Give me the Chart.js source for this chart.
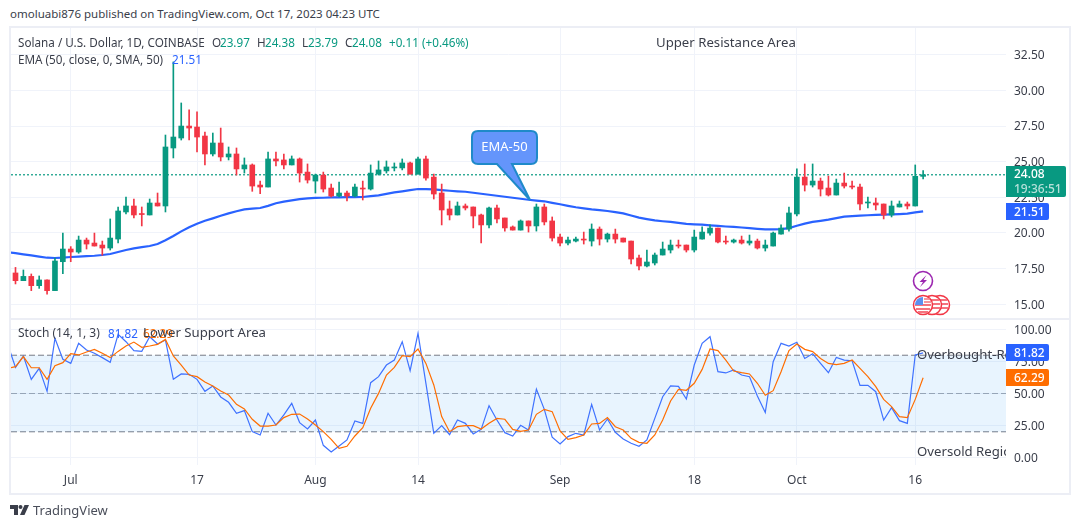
<!DOCTYPE html>
<html>
<head>
<meta charset="utf-8">
<title>SOL/USD</title>
<script src="https://cdn.jsdelivr.net/npm/chart.js@4/dist/chart.umd.min.js"></script>
<style>
  html, body { margin: 0; padding: 0; background: #fff; }
  body { width: 1080px; height: 528px; overflow: hidden; position: relative;
         font-family: "Noto Sans", sans-serif; font-size: 11.7px; color: #3a3e4a; }
  canvas { position: absolute; }
  .t { position: absolute; white-space: nowrap; line-height: 16px; }
  .frame { position: absolute; background: #eceef5; }
  .tag { position: absolute; left: 1006px; color: #fff; font-size: 12px; font-weight: 500;
         padding-left: 8px; box-sizing: border-box; border-radius: 0 2px 2px 0; line-height: 17px; }
  .clip { position: absolute; overflow: hidden; white-space: nowrap; font-size: 13.2px; line-height: 16px; }
  .green { color: #089981; } .blue { color: #2962ff; } .orange { color: #ff6d00; }
</style>
</head>
<body>
<div class="frame" style="left:10px;top:26px;width:1061px;height:2px"></div>
<div class="frame" style="left:10px;top:318px;width:1061px;height:2px"></div>
<div class="frame" style="left:10px;top:493px;width:1061px;height:2px"></div>
<div class="frame" style="left:9px;top:26px;width:2px;height:469px"></div>
<div class="frame" style="left:1069px;top:26px;width:2px;height:469px"></div>

<canvas id="priceChart" width="1059" height="290" style="left:11px;top:28px"></canvas>
<canvas id="stochChart" width="1059" height="173" style="left:11px;top:320px"></canvas>

<div class="t" style="left:10px;top:6px;font-size:11.5px">omoluabi876 published on TradingView.com, Oct 17, 2023 04:23 UTC</div>

<div class="t" style="left:18px;top:34px">Solana / U.S. Dollar, 1D, COINBASE</div>
<div class="t" style="left:212px;top:34px">O</div><div class="t green" style="left:220px;top:34px">23.97</div>
<div class="t" style="left:257px;top:34px">H</div><div class="t green" style="left:265px;top:34px">24.38</div>
<div class="t" style="left:302px;top:34px">L</div><div class="t green" style="left:308px;top:34px">23.79</div>
<div class="t" style="left:345px;top:34px">C</div><div class="t green" style="left:352px;top:34px">24.08</div>
<div class="t green" style="left:389px;top:34px">+0.11</div>
<div class="t green" style="left:422px;top:34px">(+0.46%)</div>
<div class="t" style="left:18px;top:51px">EMA (50, close, 0, SMA, 50)</div>
<div class="t blue" style="left:172px;top:51px">21.51</div>

<div class="t" style="left:656px;top:34px;font-size:13.2px">Upper Resistance Area</div>

<div class="t" style="left:18px;top:325px;font-size:12px">Stoch (14, 1, 3)</div>
<div class="t blue" style="left:108px;top:325px">81.82</div>
<div class="t orange" style="left:143px;top:325px">62.29</div>
<div class="t" style="left:143px;top:324px;font-size:13.2px">Lower Support Area</div>
<div class="clip" style="left:917px;top:346px;width:89px">Overbought-Region</div>
<div class="clip" style="left:917px;top:443px;width:89px">Oversold Region</div>

<div class="tag" style="top:166px;width:60px;height:31px;background:#089981;line-height:15px">24.08<br><span style="opacity:.7;font-size:12px">19:36:51</span></div>
<div class="tag" style="top:203px;width:43px;height:17px;background:#2962ff">21.51</div>
<div class="tag" style="top:344px;width:43px;height:17px;background:#2962ff">81.82</div>
<div class="tag" style="top:369px;width:43px;height:17px;background:#ff6d00">62.29</div>

<svg width="1080" height="528" style="position:absolute;left:0;top:0;pointer-events:none">
  <!-- EMA-50 callout -->
  <path d="M478 131 H531 Q537 131 537 137 V158 Q537 164 531 164 H512 L530 200 L497 164 H478 Q472 164 472 158 V137 Q472 131 478 131 Z"
        fill="#6495fb" stroke="#1f8ac9" stroke-width="2"/>
  <text x="504.5" y="151" text-anchor="middle" fill="#fff" font-family="Noto Sans" font-size="13">EMA-50</text>
  <!-- event marks -->
  <circle cx="923" cy="281" r="9.5" fill="#fff" stroke="#9c27b0" stroke-width="1.6"/>
  <path d="M926.5 275 L919.5 282 H923 L920 287 L927 280 H923.5 Z" fill="#9c27b0"/>
  <g id="flags">
    <circle cx="940" cy="305" r="9.5" fill="#fff" stroke="#f23645" stroke-width="1.5"/>
    <path d="M936 300h11M936 304h12M936 308h12" stroke="#f4737f" stroke-width="2"/>
    <circle cx="932" cy="305" r="9.5" fill="#fff" stroke="#f23645" stroke-width="1.5"/>
    <path d="M928 300h11M928 304h12M928 308h12" stroke="#f4737f" stroke-width="2"/>
    <circle cx="923" cy="305" r="9.5" fill="#fff" stroke="#f23645" stroke-width="1.5"/>
    <path d="M915 305h16M916 309h14M918 312h10" stroke="#f4737f" stroke-width="2"/>
    <path d="M923 297 a8 8 0 0 0 -8 8 h8 Z" fill="#5b8ff0"/>
    <path d="M924 299h6M924 302h7" stroke="#f4737f" stroke-width="1.6"/>
  </g>
  <!-- footer logo -->
  <path d="M10 505 h8 v10 h-4 v-6 h-4 Z M24.5 505 h4.5 l-4.5 10 h-4.5 Z" fill="#3a3e4a"/>
  <circle cx="20.5" cy="507" r="2" fill="#3a3e4a"/>
</svg>
<div class="t" style="left:33px;top:502px;font-size:13px;color:#4a4e5a">TradingView</div>

<script>
// values, one candle per day from Jun 24 2023
var opens = [
  17.19,16.65,16.95,16.30,16.70,15.95,17.98,18.87,18.66,19.50,
  19.29,19.15,18.94,19.57,21.47,21.89,21.33,21.26,22.10,21.89,
  25.96,26.66,27.50,27.43,26.80,25.54,26.31,25.33,25.54,24.49,
  24.77,23.36,23.22,25.19,25.12,24.77,25.19,24.27,23.64,24.06,
  23.15,22.59,22.80,22.59,23.15,23.08,24.13,24.35,24.56,24.56,
  24.91,24.13,25.19,23.92,22.80,21.68,21.26,21.89,21.82,21.26,
  20.56,21.75,21.05,20.42,20.20,20.84,20.49,21.82,20.84,19.71,
  19.29,19.43,19.57,19.43,20.27,19.57,19.92,19.64,19.43,18.24,
  17.68,17.89,18.45,18.80,19.15,19.15,18.80,19.57,19.99,20.34,
  19.43,19.36,19.50,19.29,19.43,18.94,19.08,19.92,20.27,21.33,
  23.92,23.36,23.64,23.15,22.66,23.50,23.29,23.22,22.10,22.10,
  22.03,21.26,21.82,22.03,21.89,23.97
];
var highs = [
  17.58,17.40,17.12,16.98,16.70,18.24,19.99,19.04,19.78,19.64,
  19.99,19.43,20.98,21.82,22.52,22.38,21.82,22.38,22.80,26.87,
  32.00,29.12,28.63,28.49,27.08,27.01,27.36,26.03,25.96,25.26,
  24.84,23.64,25.68,25.68,25.54,25.40,25.26,24.84,24.13,24.27,
  23.43,23.57,22.94,23.43,23.64,24.77,25.05,25.05,24.91,25.19,
  24.98,25.33,25.40,24.13,23.43,22.24,22.17,22.03,21.82,21.33,
  21.82,21.96,21.05,20.49,20.91,20.84,22.03,22.03,21.12,19.92,
  19.71,19.71,20.06,20.63,20.42,19.99,20.27,19.64,19.43,18.45,
  18.80,18.59,19.36,19.50,19.50,19.15,20.20,20.42,20.56,20.34,
  19.78,19.57,19.78,19.85,19.57,19.50,20.06,20.56,21.82,24.49,
  24.84,24.84,23.85,23.99,23.78,24.20,23.64,23.43,22.52,22.45,
  22.03,22.24,22.24,22.17,24.77,24.38
];
var lows = [
  16.42,16.65,15.95,16.11,15.71,15.95,17.14,17.98,18.57,18.87,
  19.08,18.43,18.80,19.29,21.33,21.05,20.49,21.26,21.89,21.47,
  25.26,26.52,26.52,25.68,24.77,25.40,25.05,25.12,24.06,24.20,
  22.92,22.75,23.22,24.70,24.49,24.77,23.57,23.50,22.80,22.87,
  22.52,22.52,22.24,22.52,22.31,23.01,24.06,24.20,24.35,24.42,
  24.13,24.13,23.71,22.38,20.56,20.91,21.26,21.61,20.35,19.29,
  20.35,20.70,20.13,20.20,20.20,20.06,20.13,20.56,19.43,19.08,
  19.15,19.36,19.22,19.08,19.15,19.36,19.29,19.36,17.82,17.40,
  17.61,17.75,18.45,18.59,18.94,18.66,18.66,19.57,19.85,19.29,
  19.22,19.29,19.22,19.15,18.87,18.73,19.08,19.92,20.13,21.19,
  22.94,23.22,22.59,22.59,22.66,23.15,23.08,21.61,21.75,21.61,
  20.98,21.12,21.82,21.68,21.89,23.79
];
var closes = [
  16.65,16.95,16.30,16.70,15.95,18.03,18.87,18.66,19.50,19.22,
  19.08,18.94,19.64,21.54,21.89,21.26,21.29,22.10,21.89,26.03,
  26.73,27.50,27.36,26.73,25.54,26.31,25.33,25.54,24.49,24.77,
  23.29,23.22,25.19,25.05,24.77,25.19,24.20,23.71,24.06,23.08,
  22.59,22.80,22.59,23.22,23.08,24.20,24.42,24.63,24.63,24.91,
  24.13,25.19,23.85,22.73,21.61,21.26,21.89,21.75,21.19,20.56,
  21.75,20.98,20.35,20.20,20.84,20.49,21.82,20.77,19.64,19.29,
  19.50,19.57,19.50,20.27,19.57,19.92,19.57,19.36,18.17,17.68,
  17.96,18.45,18.87,19.15,19.08,18.80,19.71,20.06,20.34,19.36,
  19.36,19.50,19.29,19.43,18.94,19.15,19.99,20.34,21.40,23.92,
  23.36,23.64,23.08,22.66,23.50,23.29,23.22,22.03,22.17,21.96,
  21.26,21.89,22.03,21.89,23.97,24.08
];
// the three lines below start one day earlier (Jun 23), clipped at the left edge
var ema = [
  18.64,18.58,18.50,18.42,18.34,18.26,18.24,18.26,18.31,18.34,18.37,
  18.40,18.45,18.52,18.66,18.80,18.92,19.00,19.08,19.22,19.48,
  19.78,20.11,20.40,20.65,20.85,21.02,21.20,21.37,21.52,21.65,
  21.70,21.75,21.90,22.08,22.20,22.29,22.37,22.43,22.46,22.47,
  22.49,22.50,22.51,22.51,22.52,22.58,22.64,22.74,22.84,22.92,
  23.00,23.08,23.08,23.06,23.01,22.96,22.92,22.89,22.82,22.75,
  22.68,22.61,22.54,22.47,22.40,22.33,22.27,22.22,22.11,22.01,
  21.90,21.80,21.72,21.65,21.60,21.54,21.46,21.37,21.22,21.07,
  20.97,20.88,20.82,20.77,20.70,20.63,20.60,20.58,20.53,20.49,
  20.45,20.42,20.38,20.34,20.29,20.25,20.25,20.27,20.34,20.50,
  20.65,20.77,20.85,20.93,21.04,21.14,21.18,21.21,21.24,21.26,
  21.28,21.30,21.32,21.35,21.44,21.51
];
var stochK = [
  88.7,70.5,79.4,61.1,69.7,51.7,93.2,76.8,73.6,89.3,84.1,
  81.5,78.1,74.4,96.3,90.6,83.6,83.0,94.5,88.8,91.9,
  61.1,65.3,65.0,61.1,51.7,55.9,47.3,43.1,34.5,36.6,
  20.1,17.5,34.5,25.3,33.2,42.3,27.2,22.2,29.2,9.4,
  4.2,8.9,13.6,28.5,26.6,58.5,63.2,72.3,76.2,90.6,
  67.9,97.1,58.0,18.8,24.8,17.8,29.2,26.6,18.3,21.9,
  40.5,29.2,19.3,16.7,25.1,21.4,53.5,37.6,15.7,10.4,
  16.2,18.8,17.5,41.5,21.4,30.0,19.6,14.4,11.0,8.6,
  13.6,30.5,47.5,55.9,55.6,45.7,72.3,89.3,94.5,67.1,
  66.1,68.4,64.5,63.2,48.0,35.2,74.9,89.3,87.2,90.1,
  77.5,81.2,73.6,66.3,78.3,76.2,75.7,56.4,56.4,51.4,
  29.2,38.9,28.7,26.6,80.2,81.82
];
var stochD = [
  69.6,71.0,78.9,70.2,70.2,61.1,71.8,74.2,81.2,80.2,82.5,
  84.6,81.5,78.1,83.0,87.2,90.3,86.2,87.2,88.5,92.4,
  79.4,72.3,64.5,63.2,59.0,55.9,52.0,48.8,41.5,37.9,
  29.8,24.5,24.5,25.3,31.1,33.7,33.9,30.0,25.3,20.1,
  14.1,7.0,8.6,16.7,23.2,38.4,50.1,64.5,70.5,79.6,
  78.9,84.9,73.6,56.7,31.9,20.1,24.0,24.8,24.8,22.2,
  26.6,30.5,29.8,21.9,20.4,21.4,33.7,37.6,35.8,20.6,
  14.1,15.4,17.5,26.1,26.6,31.1,24.0,21.4,14.9,11.7,
  11.0,17.5,29.2,44.1,53.3,52.5,58.0,68.9,84.9,83.6,
  76.2,67.6,66.3,65.3,58.0,48.6,52.2,67.1,83.6,88.8,
  84.6,82.8,77.5,73.6,72.6,73.6,76.2,69.7,63.2,55.4,
  45.4,39.7,31.9,31.1,45.4,62.29
];
var priceTicks = [15, 17.5, 20, 22.5, 25, 27.5, 30, 32.5];
var stochTicks = [0, 25, 50, 75, 100];
var timeTickDays = [7, 23, 38, 51, 69, 86, 99, 114];
var timeTickLabels = ['Jul', '17', 'Aug', '14', 'Sep', '18', 'Oct', '16'];
var stochLevels = [80, 50, 20];
var lastPrice = 24.08;

var GREEN = '#089981', RED = '#f23645', BLUE = '#2962ff', ORANGE = '#ff6d00';
var GRID = '#f0f3fa', TEXT = '#3a3e4a';
var FONT = { family: '"Noto Sans", sans-serif', size: 12 };
var X_MIN = -0.57, X_MAX = 125.5;

var candleColors = closes.map(function(c, i) { return c >= opens[i] ? GREEN : RED; });

function lineData(values) {
  return values.map(function(v, i) { return { x: i - 1, y: v }; });
}

function levelLine(level) {
  return [{ x: X_MIN, y: level }, { x: X_MAX, y: level }];
}

function xAxis(showLabels, height) {
  return {
    type: 'linear', min: X_MIN, max: X_MAX, offset: false,
    border: { display: false },
    grid: { color: GRID, drawTicks: false, offset: false },
    ticks: {
      display: showLabels, color: TEXT, font: FONT, padding: 8, maxRotation: 0, autoSkip: false,
      callback: function(v) { return timeTickLabels[timeTickDays.indexOf(v)]; }
    },
    afterBuildTicks: function(s) {
      s.ticks = timeTickDays.map(function(d) { return { value: d }; });
    },
    afterFit: function(s) { s.height = height; s.paddingLeft = 0; s.paddingRight = 0; }
  };
}

function yAxis(min, max, tickValues) {
  return {
    position: 'right', min: min, max: max,
    border: { display: false },
    grid: { color: GRID, drawTicks: false },
    ticks: {
      color: TEXT, font: FONT, padding: 8, labelOffset: 1,
      callback: function(v) { return v.toFixed(2); }
    },
    afterBuildTicks: function(s) {
      s.ticks = tickValues.map(function(v) { return { value: v }; });
    },
    afterFit: function(s) { s.width = 64; s.paddingTop = 0; s.paddingBottom = 0; }
  };
}

var baseOptions = {
  responsive: false, animation: false, events: [],
  layout: { padding: 0 },
  plugins: { legend: { display: false }, tooltip: { enabled: false } }
};

new Chart(document.getElementById('priceChart').getContext('2d'), {
  type: 'bar',
  data: {
    datasets: [
      {
        type: 'bar', order: 1, grouped: false, barThickness: 5, minBarLength: 1, borderWidth: 0,
        backgroundColor: candleColors,
        data: opens.map(function(o, i) { return { x: i, y: [o, closes[i]] }; })
      },
      {
        type: 'bar', order: 2, grouped: false, barThickness: 1, borderWidth: 0,
        backgroundColor: candleColors,
        data: lows.map(function(l, i) { return { x: i, y: [l, highs[i]] }; })
      },
      {
        type: 'line', order: 3, borderColor: BLUE, borderWidth: 2.2, pointRadius: 0, tension: 0,
        data: lineData(ema)
      },
      {
        type: 'line', order: 4, borderColor: GREEN, borderWidth: 1.2, borderDash: [2, 2], pointRadius: 0,
        data: levelLine(lastPrice)
      }
    ]
  },
  options: Object.assign({}, baseOptions, {
    scales: {
      x: xAxis(false, 0),
      y: yAxis(14.03, 34.38, priceTicks)
    }
  })
});

new Chart(document.getElementById('stochChart').getContext('2d'), {
  type: 'line',
  data: {
    datasets: [
      {
        order: 1, borderColor: ORANGE, borderWidth: 1.2, pointRadius: 0, tension: 0,
        data: lineData(stochD)
      },
      {
        order: 2, borderColor: '#3f72ff', borderWidth: 1.2, pointRadius: 0, tension: 0,
        data: lineData(stochK)
      },
      {
        order: 3, borderColor: '#787b86', borderWidth: 1, borderDash: [6, 3], pointRadius: 0,
        backgroundColor: 'rgba(33,150,243,0.1)', fill: '+2',
        data: levelLine(stochLevels[0])
      },
      {
        order: 4, borderColor: '#a4a7b0', borderWidth: 1, borderDash: [6, 3], pointRadius: 0,
        data: levelLine(stochLevels[1])
      },
      {
        order: 5, borderColor: '#787b86', borderWidth: 1, borderDash: [6, 3], pointRadius: 0,
        data: levelLine(stochLevels[2])
      }
    ]
  },
  options: Object.assign({}, baseOptions, {
    scales: {
      x: xAxis(true, 28),
      y: yAxis(-6.03, 107.6, stochTicks)
    }
  })
});
</script>
</body>
</html>
